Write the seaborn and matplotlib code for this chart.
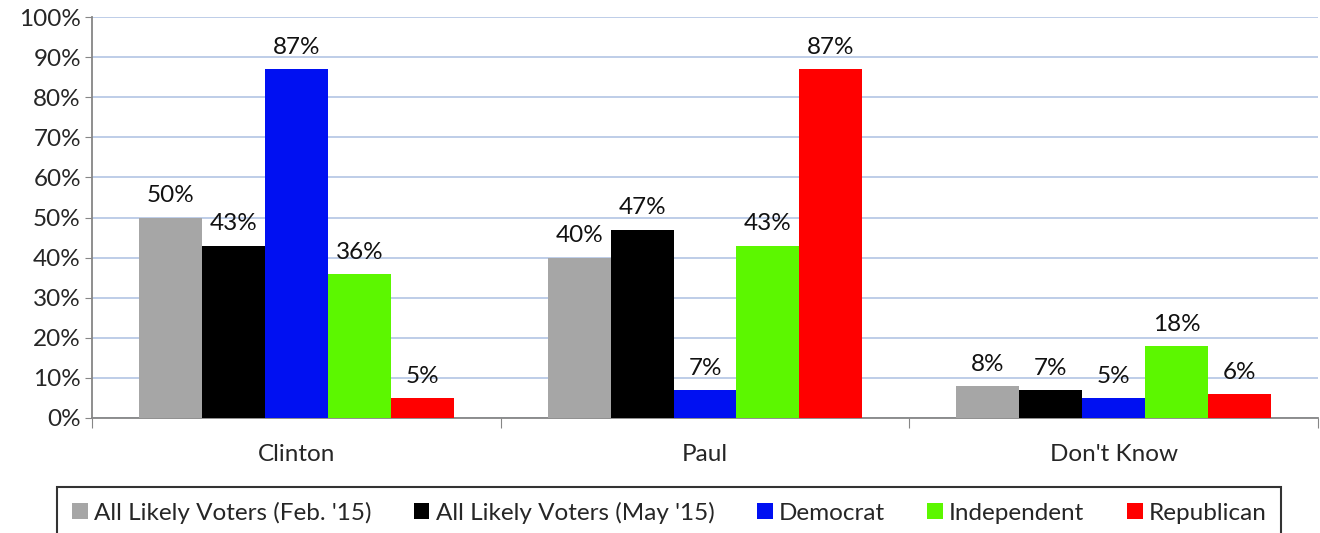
import numpy as np
import pandas as pd
import seaborn as sns
from matplotlib import pyplot as plt
from matplotlib.ticker import FixedLocator, PercentFormatter

# データ
categories = ["Clinton", "Paul", "Don't Know"]
series_names = [
    "All Likely Voters (Feb. '15)",
    "All Likely Voters (May '15)",
    "Democrat",
    "Independent",
    "Republican",
]
feb15 = [50, 40, 8]
may15 = [43, 47, 7]
democrat = [87, 7, 5]
independent = [36, 43, 18]
republican = [5, 87, 6]
colors = ["#a6a6a6", "#000000", "#0010f2", "#5cf700", "#ff0000"]

rows = []
for name, vals in zip(series_names, [feb15, may15, democrat, independent, republican]):
    for cat, v in zip(categories, vals):
        rows.append({"category": cat, "group": name, "value": v})
df = pd.DataFrame(rows)

sns.set_style("white")
plt.rcParams["font.family"] = ["Lato", "DejaVu Sans"]
fs = 17.5

fig = plt.figure(figsize=(13.2, 5.33), dpi=100)
ax = fig.add_axes([0.0697, 0.2158, 0.9288, 0.7522])

sns.barplot(
    data=df, x="category", y="value", hue="group",
    hue_order=series_names, order=categories,
    palette=colors, width=0.77, gap=0, saturation=1,
    edgecolor="none", linewidth=0, ax=ax, legend=True, zorder=3,
)

# 値ラベル
for container in ax.containers:
    ax.bar_label(container, fmt="%g%%", padding=8, fontsize=fs, color="#111111")

ax.set_ylim(0, 100)
ax.set_xlim(-0.5, 2.5)
ax.yaxis.set_major_locator(FixedLocator(np.arange(0, 101, 10)))
ax.yaxis.set_major_formatter(PercentFormatter(decimals=0))
ax.tick_params(axis="y", labelsize=fs, length=5, color="#868686", left=True, pad=3)
ax.grid(axis="y", color="#b9c9e6", linewidth=1.3, zorder=0)
ax.set_axisbelow(True)

# カテゴリ境界の目盛り
ax.set_xticks([-0.5, 0.5, 1.5, 2.5])
ax.set_xticklabels([])
ax.tick_params(axis="x", which="major", length=7, color="#868686", bottom=True)
ax.set_xticks([0, 1, 2], minor=True)
ax.set_xticklabels(categories, minor=True)
ax.tick_params(axis="x", which="minor", length=0, labelsize=fs, pad=19)

ax.set_xlabel("")
ax.set_ylabel("")
for side in ["top", "right"]:
    ax.spines[side].set_visible(False)
for side in ["left", "bottom"]:
    ax.spines[side].set_color("#868686")
    ax.spines[side].set_linewidth(1.3)

handles, labels = ax.get_legend_handles_labels()
ax.legend_.remove()
leg = fig.legend(
    handles, labels, loc="upper center", bbox_to_anchor=(0.507, 0.0863),
    borderaxespad=0, ncol=5, fontsize=fs, frameon=True, fancybox=False,
    edgecolor="black", handlelength=0.65, handleheight=0.65, handletextpad=0.25,
    columnspacing=1.75, borderpad=0.6,
)
leg.get_frame().set_linewidth(1.5)

fig.savefig("out.png", dpi=100)
